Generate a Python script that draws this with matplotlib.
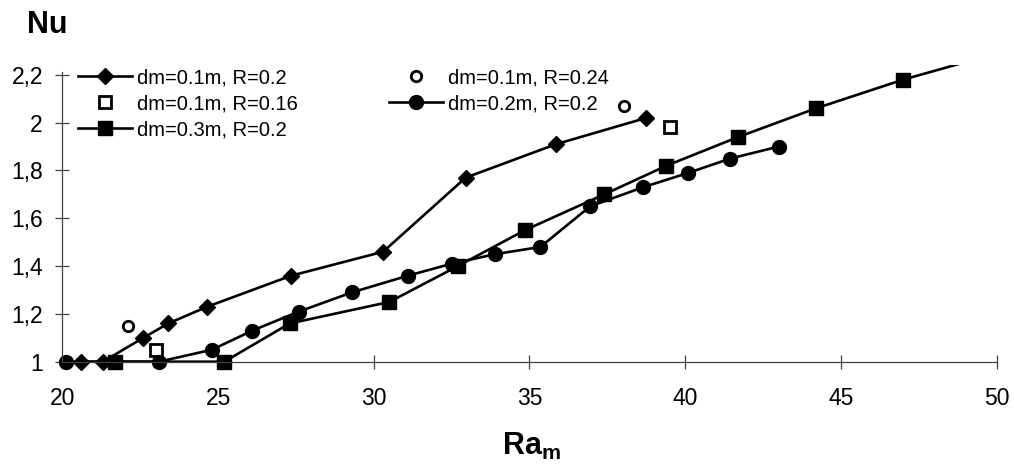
import matplotlib
matplotlib.use("Agg")
import matplotlib.pyplot as plt
from matplotlib.ticker import FixedLocator, FuncFormatter

plt.rcParams['font.family'] = ['Liberation Sans', 'DejaVu Sans']

# dm = 0.1 m, R = 0.2
ra_d01_r02 = [20.6, 21.3, 22.6, 23.4, 24.65, 27.35, 30.3, 32.95, 35.85, 38.75]
nu_d01_r02 = [1.00, 1.00, 1.10, 1.16, 1.23, 1.36, 1.46, 1.77, 1.91, 2.02]

# dm = 0.1 m, R = 0.16
ra_d01_r016 = [23.0, 39.5]
nu_d01_r016 = [1.05, 1.98]

# dm = 0.3 m, R = 0.2
ra_d03_r02 = [21.7, 25.2, 27.3, 30.5, 32.7, 34.85, 37.4, 39.4, 41.7, 44.2, 47.0, 50.0]
nu_d03_r02 = [1.00, 1.00, 1.16, 1.25, 1.40, 1.55, 1.70, 1.82, 1.94, 2.06, 2.18, 2.29]

# dm = 0.1 m, R = 0.24
ra_d01_r024 = [22.1, 38.05]
nu_d01_r024 = [1.15, 2.07]

# dm = 0.2 m, R = 0.2
ra_d02_r02 = [20.1, 23.1, 24.8, 26.1, 27.6, 29.3, 31.1, 32.5, 33.9, 35.35, 36.95, 38.65, 40.1, 41.45, 43.0]
nu_d02_r02 = [1.00, 1.00, 1.05, 1.13, 1.21, 1.29, 1.36, 1.41, 1.45, 1.48, 1.65, 1.73, 1.79, 1.85, 1.90]

x_ticks = [20, 25, 30, 35, 40, 45, 50]
y_ticks = [1.0, 1.2, 1.4, 1.6, 1.8, 2.0, 2.2]

fig = plt.figure(figsize=(10.14, 4.66), dpi=100)
ax = fig.add_axes([0.0462, 0.1982, 0.9519, 0.6623])

line_kw = dict(color='black', lw=1.9)
ax.plot(ra_d01_r02, nu_d01_r02, marker='D', ms=8, mfc='black', mec='black',
        label='dm=0.1m, R=0.2', **line_kw)
ax.plot(ra_d01_r016, nu_d01_r016, ls='none', marker='s', ms=8.5, mfc='white',
        mec='black', mew=2.0, label='dm=0.1m, R=0.16')
ax.plot(ra_d03_r02, nu_d03_r02, marker='s', ms=9.5, mfc='black', mec='black',
        label='dm=0.3m, R=0.2', **line_kw)
ax.plot(ra_d01_r024, nu_d01_r024, ls='none', marker='o', ms=7.5, mfc='white',
        mec='black', mew=2.0, label='dm=0.1m, R=0.24')
ax.plot(ra_d02_r02, nu_d02_r02, marker='o', ms=10, mfc='black', mec='black',
        label='dm=0.2m, R=0.2', **line_kw)

ax.set_xlim(19.5, 50.5)
ax.set_ylim(0.95, 2.2414)

for side in ('top', 'right'):
    ax.spines[side].set_visible(False)
ax.spines['left'].set_position(('data', 20))
ax.spines['bottom'].set_position(('data', 1))
ax.spines['left'].set_bounds(1, 2.213)
ax.spines['bottom'].set_bounds(20, 50)
for side in ('left', 'bottom'):
    ax.spines[side].set_color('#404040')
    ax.spines[side].set_linewidth(0.9)

ax.xaxis.set_major_locator(FixedLocator(x_ticks))
ax.yaxis.set_major_locator(FixedLocator(y_ticks))
ax.yaxis.set_major_formatter(FuncFormatter(lambda v, p: f"{v:g}".replace('.', ',')))
ax.tick_params(axis='both', direction='inout', length=10, width=0.9,
               color='#404040', labelsize=16.5, labelcolor='black')
ax.tick_params(axis='x', pad=13)
ax.tick_params(axis='y', pad=9)

fig.text(27 / 1014, 1 - 33 / 466, 'Nu', fontsize=22, fontweight='bold',
         ha='left', va='baseline')
fig.text(502 / 1014, 1 - 455 / 466, r'Ra$_{\mathregular{m}}$', fontsize=22,
         fontweight='bold', ha='left', va='baseline')

leg = fig.legend(loc='upper left', bbox_to_anchor=(78 / 1014, 1 - 68 / 466),
                 ncol=2, frameon=False, fontsize=14.5, handlelength=2.7,
                 handletextpad=0.25, labelspacing=0.35, columnspacing=4.5,
                 borderpad=0, borderaxespad=0)

fig.savefig('out.png', dpi=100)
